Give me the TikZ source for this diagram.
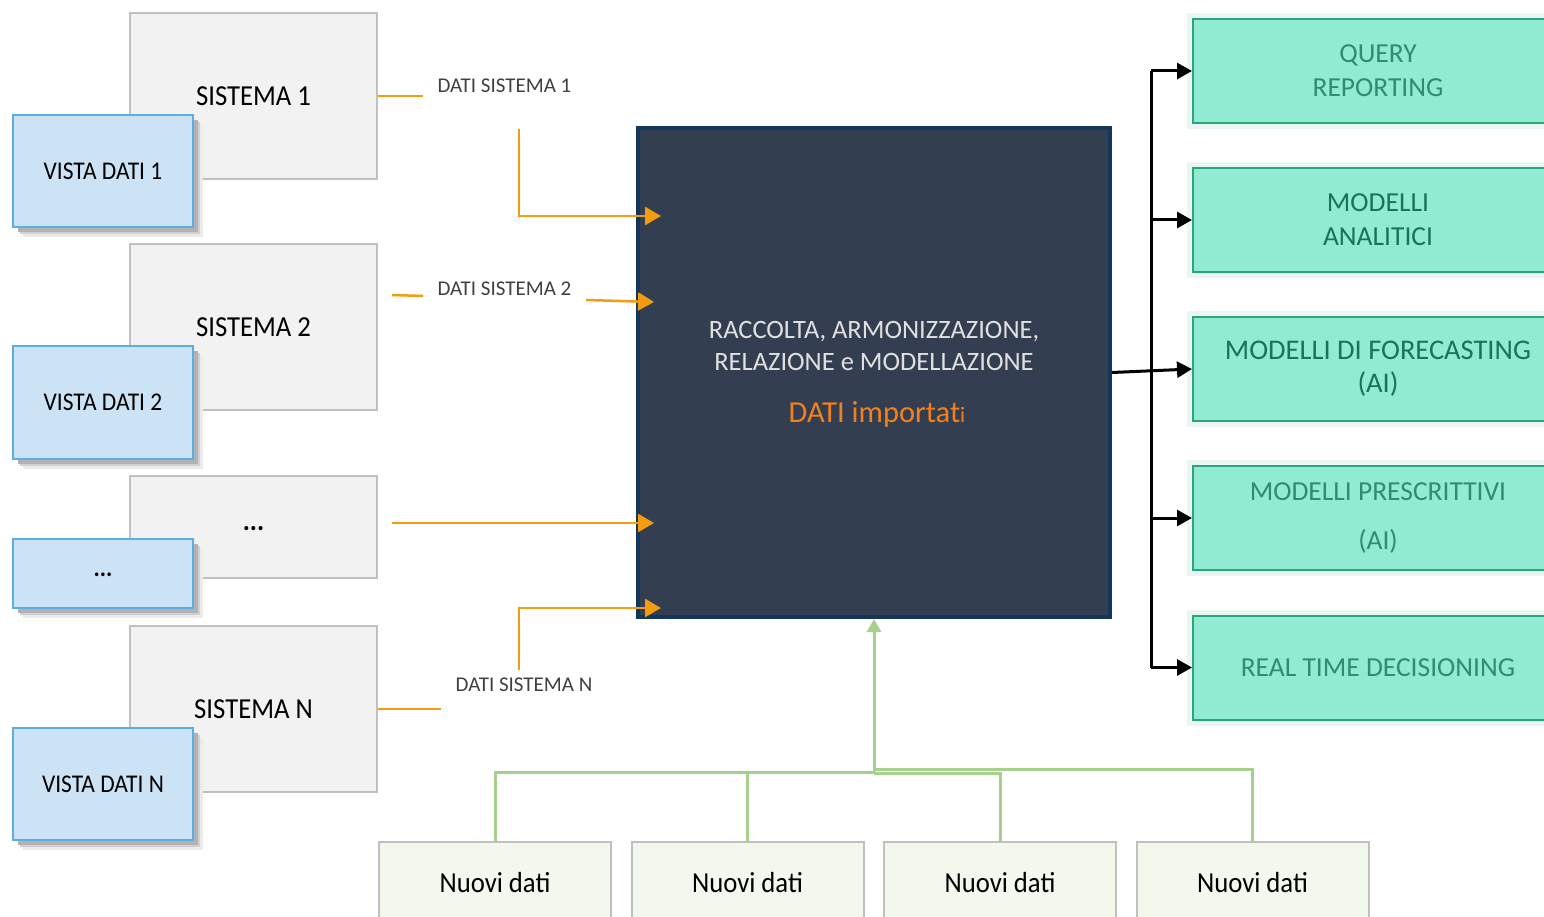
\documentclass[tikz,border=0pt]{standalone}
\usepackage{fontspec}
\setmainfont{Carlito}
\newfontfamily\condfont[FakeStretch=0.92]{Carlito}
\usetikzlibrary{arrows.meta,shadows,calc}
\definecolor{sisfill}{HTML}{F2F2F2}
\definecolor{sisline}{HTML}{C0C0C0}
\definecolor{vfill}{HTML}{CCE3F5}
\definecolor{vline}{HTML}{5DADE2}
\definecolor{orng}{HTML}{F39C12}
\definecolor{cfill}{HTML}{333F50}
\definecolor{cline}{HTML}{13375A}
\definecolor{ctext}{HTML}{E0E0E0}
\definecolor{imp}{HTML}{F2811D}
\definecolor{ofill}{HTML}{91EBD3}
\definecolor{oline}{HTML}{2BA57F}
\definecolor{glow}{HTML}{E9F6F1}
\definecolor{odark}{HTML}{17735A}
\definecolor{olight}{HTML}{2E8C72}
\definecolor{grn}{HTML}{A8D08D}
\definecolor{nfill}{HTML}{F2F8EC}
\definecolor{labcol}{HTML}{404040}
\begin{document}
\begin{tikzpicture}[x=1pt,y=-1pt,
  sis/.style={draw=sisline, fill=sisfill, line width=2pt, minimum width=247pt, inner sep=0pt,
    font=\condfont\fontsize{29}{34}\selectfont},
  vista/.style={draw=vline, fill=vfill, line width=2pt, minimum width=180pt, inner sep=0pt,
    font=\condfont\fontsize{25.5}{30}\selectfont,
    drop shadow={shadow xshift=10pt, shadow yshift=-10pt, fill=black!8, opacity=1},
    drop shadow={shadow xshift=7pt, shadow yshift=-7pt, fill=black!18, opacity=1},
    drop shadow={shadow xshift=5pt, shadow yshift=-5pt, fill=black!30, opacity=1}},
  central/.style={draw=cline, fill=cfill, line width=4pt, minimum width=472pt, minimum height=489pt, inner sep=0pt},
  outbox/.style={draw=oline, fill=ofill, line width=2pt, minimum width=370pt, minimum height=104pt,
    inner sep=0pt, align=center, preaction={draw=glow, line width=12pt}},
  nbox/.style={draw=sisline, fill=nfill, line width=2pt, minimum width=232pt, minimum height=82pt,
    inner sep=0pt, font=\condfont\fontsize{29}{34}\selectfont},
  lab/.style={text=labcol, inner sep=0pt, font=\fontsize{21}{25}\selectfont},
  oln/.style={draw=orng, line width=2.5pt},
  oarr/.style={oln, -{Triangle[length=16pt,width=18pt]}},
  barr/.style={draw=black, line width=3pt, -{Triangle[length=15pt,width=16pt]}},
  gln/.style={draw=grn, line width=3pt},
]
\clip (0,0) rectangle (1544,917);
\fill[white] (0,0) rectangle (1544,917);

% source systems
\node[sis, minimum height=166pt] (s1) at (253.5,96) {SISTEMA 1};
\node[vista, minimum height=112pt] (v1) at (103,171) {VISTA DATI 1};
\node[sis, minimum height=166pt] (s2) at (253.5,327) {SISTEMA 2};
\node[vista, minimum height=113pt] (v2) at (103,402.5) {VISTA DATI 2};
\node[sis, minimum height=102pt] (s3) at (253.5,527) {\raisebox{-8pt}{\textbf{...}}};
\node[vista, minimum height=69pt] (v3) at (103,573.5) {\raisebox{-6pt}{\textbf{...}}};
\node[sis, minimum height=166pt] (sN) at (253.5,709) {SISTEMA N};
\node[vista, minimum height=112pt] (vN) at (103,784) {VISTA DATI N};

% central box
\node[central] (c) at (874,372.5) {};
\node[text=ctext, align=center, font=\fontsize{26.5}{32}\selectfont] (ct) at (874,346)
  {RACCOLTA, ARMONIZZAZIONE,\\RELAZIONE e MODELLAZIONE};
\node[text=imp, font=\fontsize{30.5}{34}\selectfont, inner sep=0pt] (ci) at (877,414)
  {DATI importat{\fontsize{22}{26}\selectfont i}};

% labels
\node[lab] (l1) at (504.5,86) {DATI SISTEMA 1};
\node[lab] (l2) at (504.5,289) {DATI SISTEMA 2};
\node[lab] (lN) at (524,685) {DATI SISTEMA N};

% orange connectors
\coordinate (a1) at (423,96);
\coordinate (b1) at (519,129);
\coordinate (e1) at (661,216);
\draw[oln] (s1.east) -- (a1);
\draw[oarr] (b1) |- (e1);
\coordinate (a2s) at (392,295);
\coordinate (a2e) at (423,296);
\coordinate (b2s) at (586,300);
\coordinate (e2) at (654,302);
\draw[oln] (a2s) -- (a2e);
\draw[oarr] (b2s) -- (e2);
\coordinate (a3) at (392,523);
\coordinate (e3) at (654,523);
\draw[oarr] (a3) -- (e3);
\coordinate (aN) at (441,709);
\coordinate (bN) at (519,670);
\coordinate (eN) at (661,608);
\draw[oln] (sN.east) -- (aN);
\draw[oarr] (bN) |- (eN);

% output boxes
\node[outbox, text=olight, font=\fontsize{27.5}{34}\selectfont] (r1) at (1378,71) {QUERY\\REPORTING};
\node[outbox, text=odark, font=\fontsize{27.5}{34}\selectfont] (r2) at (1378,220) {MODELLI\\ANALITICI};
\node[outbox, text=odark, font=\fontsize{28.5}{33}\selectfont] (r3) at (1378,369) {MODELLI DI FORECASTING\\(AI)};
\node[outbox, text=olight, font=\fontsize{27.5}{49}\selectfont] (r4) at (1378,518) {MODELLI PRESCRITTIVI\\(AI)};
\node[outbox, text=olight, font=\fontsize{27.5}{34}\selectfont] (r5) at (1378,667.5) {REAL TIME DECISIONING};

% black connectors
\coordinate (bt) at (1151,71);
\coordinate (bb) at (1151,667.5);
\draw[line width=3pt] (bt) -- (bb);
\draw[barr] (bt) -- (r1.west);
\draw[barr] (bt|-r2.west) -- (r2.west);
\draw[barr] (bt|-r4.west) -- (r4.west);
\draw[barr] (bb) -- (r5.west);
\draw[barr] (c.east) -- (r3.west);

% new data boxes
\node[nbox] (n1) at (495,883) {Nuovi dati};
\node[nbox] (n2) at (747.5,883) {Nuovi dati};
\node[nbox] (n3) at (1000,883) {Nuovi dati};
\node[nbox] (n4) at (1252.5,883) {Nuovi dati};

% green connectors
\coordinate (gL) at (874,772);
\coordinate (gR) at (874,769);
\draw[gln] (n1.north) |- (gL);
\draw[gln] (n2.north) -- (n2.north|-gL);
\draw[gln] (n3.north) |- ($(gL)+(0,1)$);
\draw[gln] (n4.north) |- (gR);
\draw[gln, -{Triangle[length=13pt,width=14pt]}] (gL) -- (c.south);
\end{tikzpicture}
\end{document}
